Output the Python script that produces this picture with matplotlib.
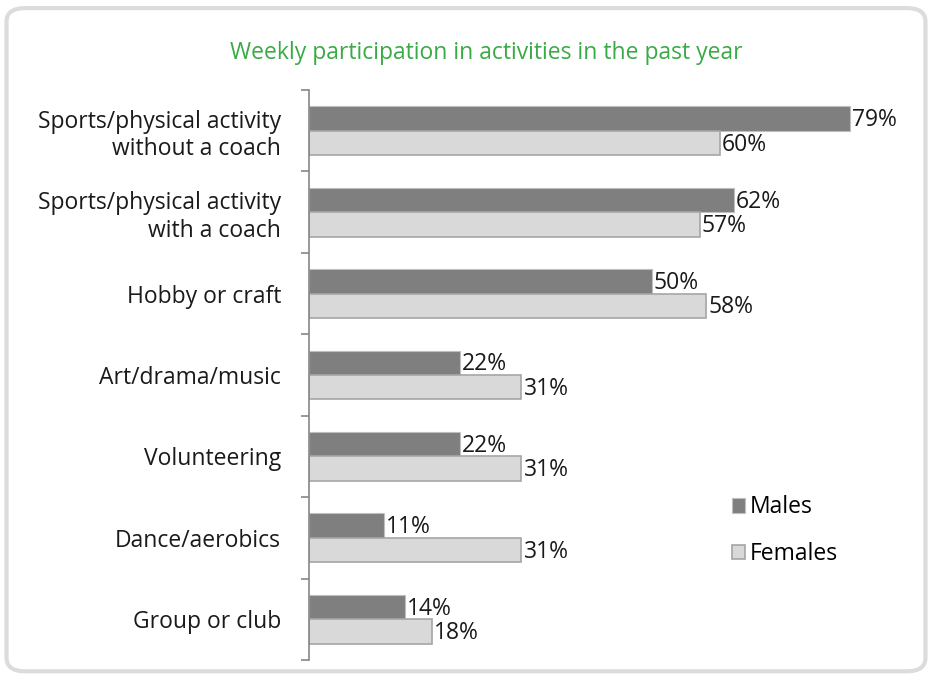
import numpy as np
import matplotlib.pyplot as plt
from matplotlib.patches import FancyBboxPatch

plt.rcParams['font.family'] = ['Open Sans', 'DejaVu Sans']

categories = ['Sports/physical activity\nwithout a coach',
              'Sports/physical activity\nwith a coach',
              'Hobby or craft',
              'Art/drama/music',
              'Volunteering',
              'Dance/aerobics',
              'Group or club']
males = [79, 62, 50, 22, 22, 11, 14]
females = [60, 57, 58, 31, 31, 31, 18]

fig = plt.figure(figsize=(9.32, 6.74), dpi=100)

# rounded frame around the chart
frame = FancyBboxPatch((0.007, 0.004), 0.986, 0.984,
                       boxstyle="round,pad=0,rounding_size=0.02",
                       transform=fig.transFigure, facecolor='none',
                       edgecolor='#dcdcdc', linewidth=3, zorder=-1)
fig.patches.append(frame)

ax = fig.add_axes([0.3315, 0.0208, 0.625, 0.8457])
ax.set_facecolor('none')

n = len(categories)
y = np.arange(n)
h = 0.3
ax.barh(y - h / 2, males, height=h, color='#7f7f7f', edgecolor='#bfbfbf',
        linewidth=0.8, label='Males')
ax.barh(y + h / 2, females, height=h, color='#d9d9d9', edgecolor='#a6a6a6',
        linewidth=1.2, label='Females')

for i in range(n):
    ax.text(males[i] + 0.3, y[i] - h / 2 + 0.02, '%d%%' % males[i],
            va='center', ha='left', fontsize=16.5, color='#1a1a1a')
    ax.text(females[i] + 0.3, y[i] + h / 2 + 0.02, '%d%%' % females[i],
            va='center', ha='left', fontsize=16.5, color='#1a1a1a')

ax.set_xlim(0, 85)
ax.set_ylim(n - 0.5, -0.5)
ax.set_xticks([])
ax.set_yticks(y)
ax.set_yticklabels(categories, fontsize=16.5, color='#1a1a1a',
                   multialignment='right')
ax.set_yticks(np.arange(n + 1) - 0.5, minor=True)
ax.tick_params(axis='y', which='major', length=0, pad=20)
ax.tick_params(axis='y', which='minor', length=6, color='#868686', width=1.2)

for s in ['top', 'right', 'bottom']:
    ax.spines[s].set_visible(False)
ax.spines['left'].set_color('#868686')
ax.spines['left'].set_linewidth(1.2)

fig.text(0.522, 0.922, 'Weekly participation in activities in the past year',
         ha='center', va='center', fontsize=16.5, color='#3aaa45')

ax.legend(loc='upper left', bbox_to_anchor=(0.69, 0.325), frameon=False,
          fontsize=16.5, handlelength=0.6, handleheight=0.6,
          handletextpad=0.2, labelspacing=1.0)

plt.savefig('out.png', dpi=100)
